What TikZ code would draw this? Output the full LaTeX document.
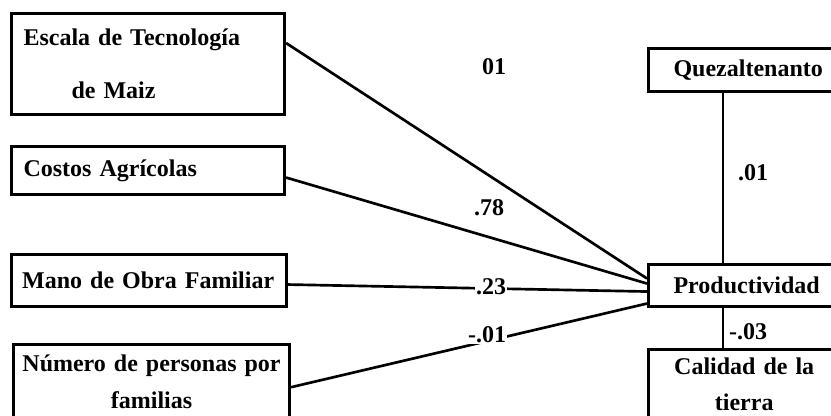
\documentclass[tikz,border=0pt]{standalone}
\usepackage{fontspec}
\setmainfont{Liberation Serif}
\usepackage{tikz}

\begin{document}
\begin{tikzpicture}[x=0.75pt,y=0.75pt,yscale=-1,xscale=1,
    every node/.style={font=\fontsize{18}{21.6}\selectfont\bfseries},
    lbox/.style={draw,line width=2.3pt,anchor=north west,align=left,inner xsep=9pt,inner ysep=0pt},
    rbox/.style={draw,line width=2.3pt,anchor=north west,inner xsep=18.75pt,inner ysep=0pt},
    path/.style={line width=2pt},
    coef/.style={fill=white,inner sep=1pt}]
        \clip (0,0) rectangle (831,415);
        \useasboundingbox (0,0) rectangle (831,415);
        % left boxes
        \node [lbox,text width=186.75pt,minimum height=75.75pt] (escala) at (10,12) {Escala de Tecnología\\[18.15pt]\hspace*{36pt}de Maiz};
        \node [lbox,text width=186.75pt,minimum height=36pt] (costos) at (10,145) {Costos Agrícolas};
        \node [lbox,inner xsep=8pt,text width=190.25pt,minimum height=39pt] (mano) at (10,253) {Mano de Obra Familiar};
        \node [lbox,align=center,inner xsep=3pt,text width=201pt,minimum height=56pt] (numero) at (12,343) {Número de personas por\\[6pt]familias};
        % right boxes
        \node [rbox,align=left,text width=120pt,minimum height=32.25pt] (quez) at (647,47) {Quezaltenanto};
        \node [rbox,align=left,text width=120pt,minimum height=31.5pt] (prod) at (647,263) {Productividad};
        \node [rbox,align=center,text width=106pt,minimum height=52pt] (calidad) at (647,348) {Calidad de la\\[5pt]tierra};
        % paths
        \draw [path] ([yshift=-15.75pt]escala.east) -- ([yshift=-5.25pt]prod.west);
        \draw [path] ([yshift=5.25pt]costos.east) -- ([yshift=-1.5pt]prod.west);
        \draw [path] ([yshift=3pt]mano.east) -- ([yshift=4.5pt]prod.west);
        \draw [path] ([yshift=4pt]numero.east) -- ([yshift=13.5pt]prod.west);
        \draw [line width=1.6pt] ([xshift=57pt]quez.south west) -- ([xshift=57pt]prod.north west);
        \draw [line width=1.6pt] ([xshift=57pt]prod.south west) -- ([xshift=57pt]calidad.north west);
        % coefficients
        \node (c1) at (494,67) {01};
        \node (c2) at (489,208) {.78};
        \node [coef] (c3) at (491,287) {.23};
        \node [coef] (c4) at (487,335) {-.01};
        \node (c5) at (753,173) {.01};
        \node (c6) at (748,332) {-.03};
\end{tikzpicture}
\end{document}
